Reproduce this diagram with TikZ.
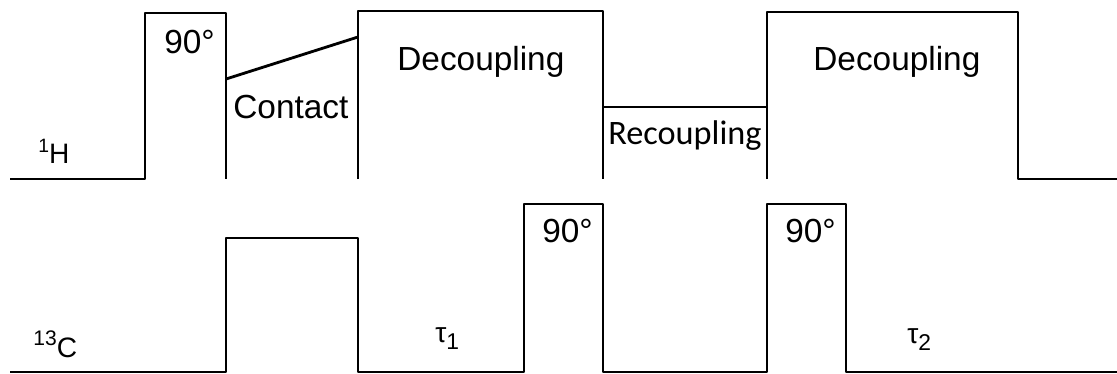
\documentclass[tikz,border=0pt]{standalone}
\usepackage{fontspec}
\setmainfont{Liberation Sans}
\newfontfamily\recfont{Carlito}
\newcommand{\isotope}[3]{\raisebox{#2}{\fontsize{#3}{14}\selectfont #1}}
\begin{document}
\begin{tikzpicture}[x=0.02cm,y=-0.02cm,
    pulse/.style={line width=1.6pt,line join=round,line cap=butt},
    lbl/.style={anchor=base west,inner sep=0pt,font=\fontsize{19}{22}\selectfont},
    chan/.style={anchor=base west,inner sep=0pt,font=\fontsize{16}{19}\selectfont},
    tau/.style={anchor=base west,inner sep=0pt,font=\fontsize{16}{19}\selectfont}]
  \useasboundingbox (0,0) rectangle (1117,373);
  % proton channel
  \draw[pulse] (10,179) -- (145,179) -- (145,13) -- (226,13) -- (226,179);
  \draw[pulse] (226,79) -- (358,37);
  \draw[pulse] (358,179) -- (358,11) -- (603,11) -- (603,179);
  \draw[pulse] (603,107) -- (767,107);
  \draw[pulse] (767,179) -- (767,12) -- (1018,12) -- (1018,179) -- (1117,179);
  % carbon channel
  \draw[pulse] (10,372) -- (226,372) -- (226,238) -- (358,238) -- (358,372)
     -- (524,372) -- (524,204) -- (603,204) -- (603,372)
     -- (767,372) -- (767,204) -- (846,204) -- (846,372) -- (1117,372);
  % labels
  \node[lbl] (hpulse) at (164,53) {90°};
  \node[lbl] (contact) at (233,118) {Contact};
  \node[lbl] (decA) at (397,70) {Decoupling};
  \node[anchor=base west,inner sep=0pt,font=\recfont\fontsize{19.5}{22}\selectfont] (recoup) at (608,144) {Recoupling};
  \node[lbl] (decB) at (813,70) {Decoupling};
  \node[chan] (hname) at (38,163) {\isotope{1}{5.7pt}{11}H};
  \node[chan] (cname) at (33,357) {\isotope{13}{6.5pt}{12}C};
  \node[tau] (tauA) at (435,342) {τ\raisebox{-4pt}{\fontsize{13}{15}\selectfont 1}};
  \node[tau] (tauB) at (907,343) {τ\raisebox{-4pt}{\fontsize{13}{15}\selectfont 2}};
  \node[lbl] (cpulseA) at (542,242) {90°};
  \node[lbl] (cpulseB) at (785,242) {90°};
\end{tikzpicture}
\end{document}
